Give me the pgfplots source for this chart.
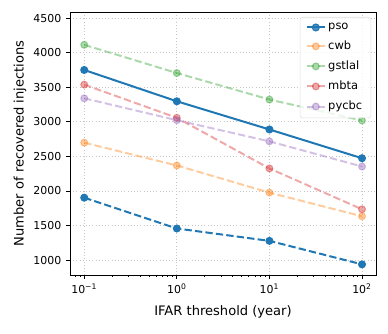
\documentclass[border=0pt]{standalone}
\usepackage{fontspec}
\setmainfont{DejaVu Sans}
\usepackage{pgfplots}
\pgfplotsset{compat=1.18}
\definecolor{tblue}{HTML}{1F77B4}
\definecolor{torange}{HTML}{FF7F0E}
\definecolor{tgreen}{HTML}{2CA02C}
\definecolor{tred}{HTML}{D62728}
\definecolor{tpurple}{HTML}{9467BD}
\begin{document}
\begin{tikzpicture}
\begin{axis}[
  scale only axis, width=229.5pt, height=197.25pt,
  xmode=log, xmin=0.0702, xmax=141.6, ymin=784, ymax=4590,
  ytick={1000,1500,...,4500},
  xtick={0.1,1,10,100},
  xticklabels={10\textsuperscript{−1},10\textsuperscript{0},10\textsuperscript{1},10\textsuperscript{2}},
  minor xtick={0.08,0.09,0.2,0.3,0.4,0.5,0.6,0.7,0.8,0.9,2,3,4,5,6,7,8,9,20,30,40,50,60,70,80,90},
  xtick pos=left, ytick pos=left,
  tick align=outside, major tick length=3pt, minor tick length=1.6pt,
  tick style={black, line width=0.6pt},
  axis line style={line width=0.6pt},
  xmajorgrids, ymajorgrids,
  major grid style={dotted, gray!45, line width=0.6pt},
  /pgf/number format/1000 sep={},
  /pgf/number format/assume math mode=true,
  tick label style={font=\fontsize{8.2}{9}\selectfont},
  label style={font=\fontsize{9.8}{11}\selectfont},
  xlabel={IFAR threshold (year)},
  ylabel={Number of recovered injections},
  xlabel style={yshift=-2pt},
  ylabel style={yshift=-1.5pt},
  legend cell align=left,
  legend style={at={(0.984,0.981)}, anchor=north east, draw=gray!25, rounded corners=2pt,
    fill=white, fill opacity=0.8, text opacity=1, font=\fontsize{8.6}{9}\selectfont, row sep=3pt,
    inner xsep=4.5pt, inner ysep=2.5pt},
  legend image code/.code={\draw[mark repeat=2,mark phase=2] plot coordinates {(0cm,0cm) (0.23cm,0cm) (0.46cm,0cm)};},
  every axis plot/.append style={line width=1.5pt, mark=*, mark size=2.6pt},
]
\addplot[tblue, mark options={solid, line width=0.8pt}] coordinates {(0.1,3751) (1,3298) (10,2890) (100,2474)};
\addlegendentry{pso}
\addplot[torange, opacity=0.4, dash pattern=on 5.5pt off 2.4pt, mark options={solid, line width=0.8pt}] coordinates {(0.1,2699) (1,2369) (10,1976) (100,1634)};
\addlegendentry{cwb}
\addplot[tgreen, opacity=0.4, dash pattern=on 5.5pt off 2.4pt, mark options={solid, line width=0.8pt}] coordinates {(0.1,4115) (1,3707) (10,3323) (100,3020)};
\addlegendentry{gstlal}
\addplot[tred, opacity=0.4, dash pattern=on 5.5pt off 2.4pt, mark options={solid, line width=0.8pt}] coordinates {(0.1,3539) (1,3059) (10,2326) (100,1735)};
\addlegendentry{mbta}
\addplot[tpurple, opacity=0.4, dash pattern=on 5.5pt off 2.4pt, mark options={solid, line width=0.8pt}] coordinates {(0.1,3341) (1,3024) (10,2718) (100,2354)};
\addlegendentry{pycbc}
\addplot[tblue, dash pattern=on 5.5pt off 2.4pt, mark options={solid, line width=0.8pt}, forget plot] coordinates {(0.1,1903) (1,1457) (10,1278) (100,938)};
\end{axis}
\pgfresetboundingbox
\path ([xshift=-52.5pt,yshift=-43.5pt]current axis.south west) rectangle ([xshift=9pt,yshift=9pt]current axis.north east);
\end{tikzpicture}
\end{document}
